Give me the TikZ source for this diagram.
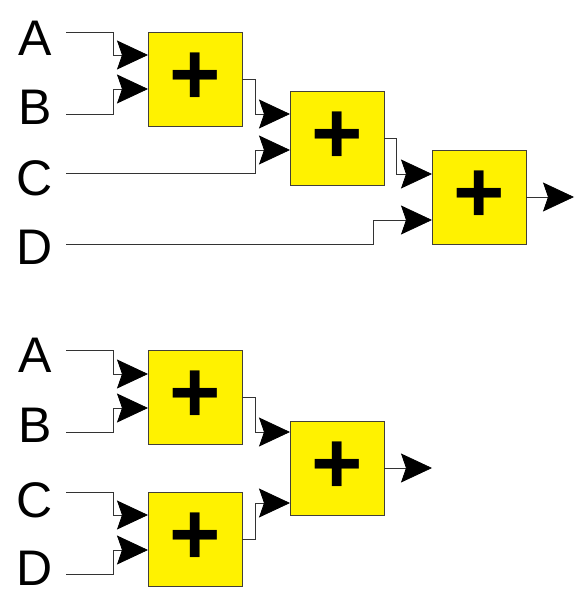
\documentclass[tikz,border=0pt]{standalone}
\usepackage{fontspec}
\setmainfont{Liberation Sans}
\usetikzlibrary{arrows.meta}

\tikzset{
  adder/.style={rectangle,draw=black!85!yellow,line width=0.9pt,fill=yellow,
    minimum size=94pt,inner sep=0pt,font=\fontsize{88}{88}\selectfont\bfseries},
  inname/.style={inner sep=0pt,font=\fontsize{50}{50}\selectfont},
  sig/.style={draw=black!80,line width=0.8pt,
    -{Stealth[length=31pt,width=29pt,inset=5pt,black]}}
}

\begin{document}
\begin{tikzpicture}[x=1pt,y=-1pt]
\useasboundingbox (0,0) rectangle (585,609);

% chain: ((A+B)+C)+D
\path (35,38) node[inname] (A1){A};
\path (35,107) node[inname] (B1){B};
\path (35,178) node[inname] (C1){C};
\path (35,247) node[inname] (D1){D};
\coordinate (sA1) at (66,32);
\coordinate (sB1) at (66,114);
\coordinate (sC1) at (66,173);
\coordinate (sD1) at (66,244);

\path (195,79) node[adder] (S1){+};
\path (337,138) node[adder] (S2){+};
\path (479,197) node[adder] (S3){+};
\coordinate (S1a) at (148,55);
\coordinate (S1b) at (148,89);
\coordinate (S2a) at (290,114);
\coordinate (S2b) at (290,150);
\coordinate (S3a) at (432,174);
\coordinate (S3b) at (432,220);
\coordinate (out1) at (574,197);

\draw[sig] (sA1) -| ([xshift=-35pt]S1a) -- (S1a);
\draw[sig] (sB1) -| ([xshift=-35pt]S1b) -- (S1b);
\draw[sig] (S1.east) -| ([xshift=-35pt]S2a) -- (S2a);
\draw[sig] (sC1) -| ([xshift=-35pt]S2b) -- (S2b);
\draw[sig] (S2.east) -| ([xshift=-36pt]S3a) -- (S3a);
\draw[sig] (sD1) -| ([xshift=-59pt]S3b) -- (S3b);
\draw[sig] (S3.east) -- (out1);

% tree: (A+B)+(C+D)
\path (35,355) node[inname] (A2){A};
\path (35,425) node[inname] (B2){B};
\path (35,500) node[inname] (C2){C};
\path (35,568) node[inname] (D2){D};
\coordinate (sA2) at (66,350);
\coordinate (sB2) at (66,432);
\coordinate (sC2) at (66,492);
\coordinate (sD2) at (66,574);

\path (195,397) node[adder] (S4){+};
\path (195,539) node[adder] (S5){+};
\path (337,468) node[adder] (S6){+};
\coordinate (S4a) at (148,374);
\coordinate (S4b) at (148,408);
\coordinate (S5a) at (148,515);
\coordinate (S5b) at (148,550);
\coordinate (S6a) at (290,432);
\coordinate (S6b) at (290,503);
\coordinate (out2) at (432,468);

\draw[sig] (sA2) -| ([xshift=-35pt]S4a) -- (S4a);
\draw[sig] (sB2) -| ([xshift=-35pt]S4b) -- (S4b);
\draw[sig] (sC2) -| ([xshift=-35pt]S5a) -- (S5a);
\draw[sig] (sD2) -| ([xshift=-35pt]S5b) -- (S5b);
\draw[sig] (S4.east) -| ([xshift=-35pt]S6a) -- (S6a);
\draw[sig] (S5.east) -| ([xshift=-35pt]S6b) -- (S6b);
\draw[sig] (S6.east) -- (out2);
\end{tikzpicture}
\end{document}
